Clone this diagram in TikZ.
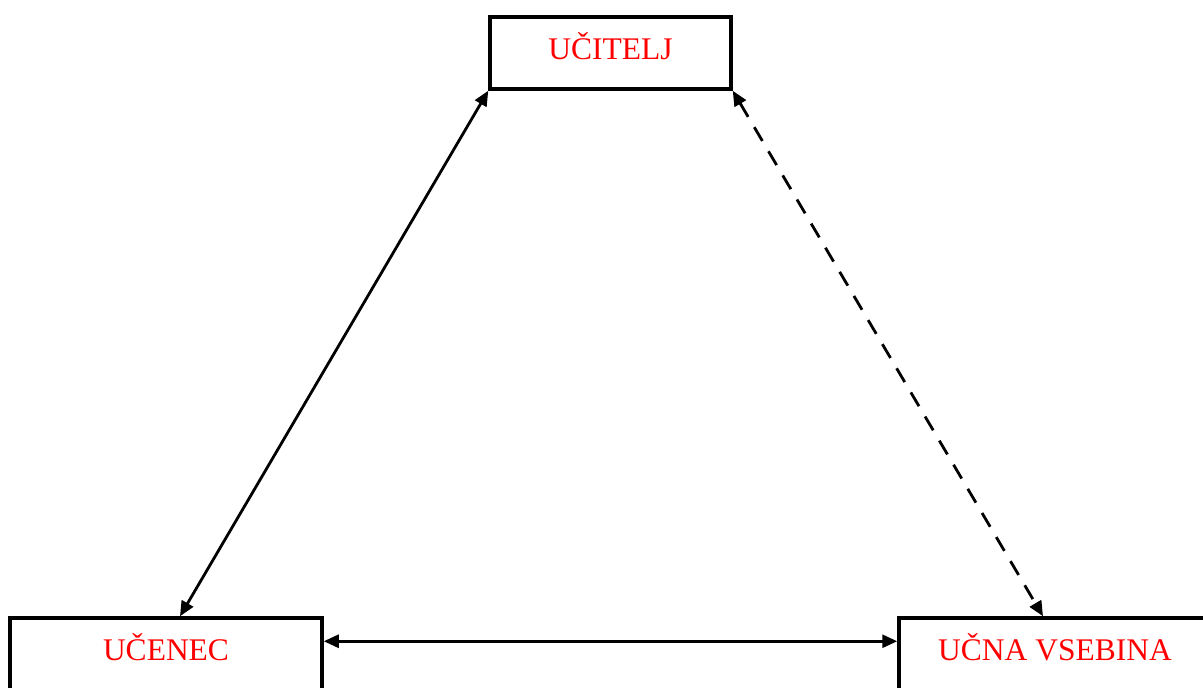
\documentclass[tikz,border=0pt]{standalone}
\usepackage{fontspec}
\setmainfont{Liberation Serif}
\usetikzlibrary{arrows.meta,scopes}
\tikzset{
  role/.style={draw,line width=3.5pt,inner sep=0pt,minimum height=72pt,
               text height=21pt,text depth=9pt,text=red,
               font=\fontsize{31.5}{36}\selectfont},
  link/.style={line width=2.8pt,{Triangle[length=15pt,width=13pt]}-{Triangle[length=15pt,width=13pt]}}
}
\begin{document}
\begin{tikzpicture}[x=1pt,y=-1pt]
\useasboundingbox (0,0) rectangle (1203,688);
\clip (0,0) rectangle (1203,688);

\path node[role,minimum width=241pt] (ucitelj) at (610.5,53)  {UČITELJ}
      node[role,minimum width=312pt] (ucenec)  at (166,654)   {UČENEC}
      node[role,minimum width=312pt] (vsebina) at (1055,654)  {UČNA VSEBINA};
     { [link]
      \draw   (ucitelj.south west) -- ([xshift=14pt]ucenec.north);
      \draw[dash pattern=on 16pt off 12pt]
              (ucitelj.south east) -- ([xshift=-12pt]vsebina.north);
      \draw   ([yshift=-25pt]ucenec.north east) -- ([yshift=-25pt]vsebina.north west);
     }
\end{tikzpicture}
\end{document}
